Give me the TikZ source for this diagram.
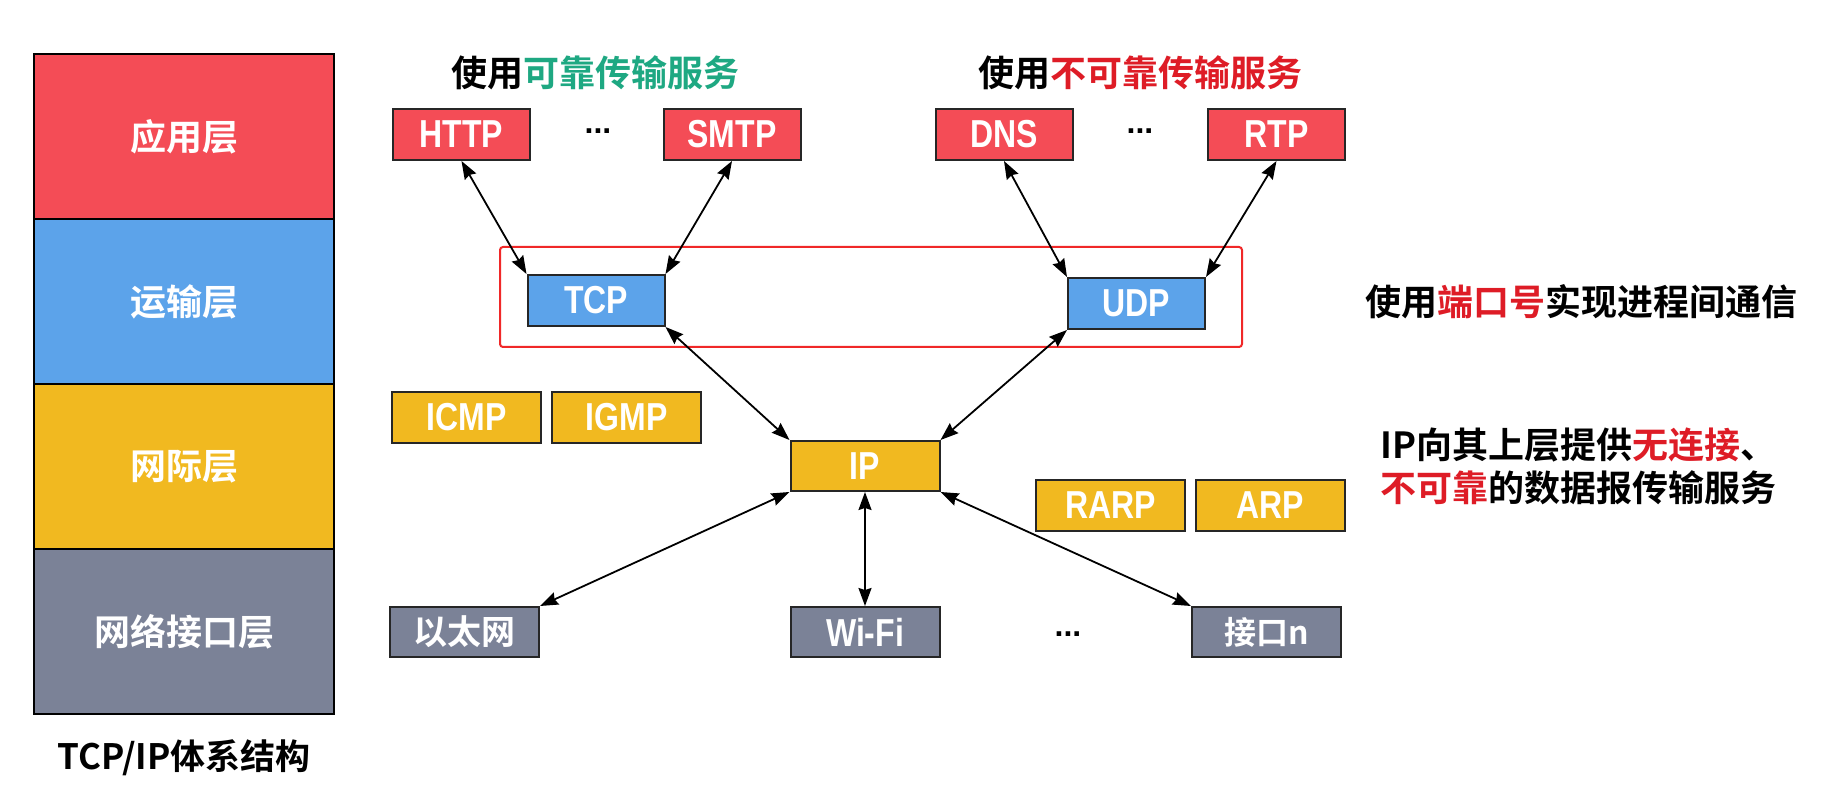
\documentclass[tikz,border=0pt]{standalone}
\usepackage{fontspec}
\setmainfont{Liberation Sans}
\newfontfamily\cjk{Noto Sans CJK SC}[BoldFont={Noto Sans CJK SC Bold}]
\newfontfamily\narrowfont{Liberation Sans}[FakeStretch=0.82]
\usetikzlibrary{arrows.meta}
\definecolor{appred}{RGB}{244,76,86}
\definecolor{tblue}{RGB}{92,163,234}
\definecolor{ipyel}{RGB}{241,185,32}
\definecolor{nigray}{RGB}{123,130,151}
\definecolor{tgreen}{RGB}{30,168,130}
\definecolor{tred}{RGB}{222,28,38}
\definecolor{rectred}{RGB}{240,40,40}
\begin{document}
\begin{tikzpicture}[x=0.5pt,y=-0.5pt,
  lay/.style={draw=black, line width=1.2pt, minimum width=150pt, minimum height=82.5pt, inner sep=0pt, text=white, font=\cjk\bfseries\fontsize{18}{20}\selectfont},
  box/.style={draw=black!85, line width=1pt, minimum height=25.5pt, minimum width=68.5pt, inner sep=0pt, text=white, font=\narrowfont\bfseries\fontsize{19.5}{20}\selectfont},
  wbox/.style={minimum width=74.5pt},
  cbox/.style={font=\cjk\bfseries\fontsize{17}{19}\selectfont},
  appbox/.style={box, fill=appred},
  tbox/.style={box, fill=tblue},
  ipbox/.style={box, wbox, fill=ipyel},
  nibox/.style={box, wbox, fill=nigray, minimum height=25pt},
  dots/.style={font=\bfseries\fontsize{16}{18}\selectfont},
  txt/.style={font=\cjk\bfseries\fontsize{18}{21.5}\selectfont, inner sep=0pt},
  conn/.style={<->, >={Stealth[length=9pt,width=6.5pt,inset=1pt]}, line width=0.9pt}
]
\useasboundingbox (0,0) rectangle (1833,786);
\fill[white] (0,0) rectangle (1833,786);

% left column
\node[lay, fill=appred] (lapp) at (184,136.5) {应用层};
\node[lay, fill=tblue] (ltrans) at (184,301.5) {运输层};
\node[lay, fill=ipyel] (lnet) at (184,466.5) {网际层};
\node[lay, fill=nigray] (lni) at (184,631.5) {网络接口层};
\node[txt, text=black, font=\cjk\bfseries\fontsize{17.5}{20}\selectfont] (cap) at (184,758) {TCP/IP体系结构};

% titles
\node[txt] (t1) at (595.5,73) {使用\textcolor{tgreen}{可靠传输服务}};
\node[txt] (t2) at (1140,73) {使用\textcolor{tred}{不可靠传输服务}};

% red rectangle
\draw[rectred, line width=1pt, rounded corners=1.5pt] (500,247) rectangle (1242,347);

% application boxes
\node[appbox] (http) at (461.5,134.5) {HTTP};
\node[dots] (d1) at (598,131) {...};
\node[appbox] (smtp) at (732,134.5) {SMTP};
\node[appbox] (dns) at (1004,134.5) {DNS};
\node[dots] (d2) at (1140,131) {...};
\node[appbox] (rtp) at (1276.5,134.5) {RTP};

% transport
\node[tbox] (tcp) at (596,300.5) {TCP};
\node[tbox] (udp) at (1136.5,303.5) {UDP};

% internet
\node[ipbox] (icmp) at (466.5,417.5) {ICMP};
\node[ipbox] (igmp) at (626.5,417.5) {IGMP};
\node[ipbox, minimum height=25pt] (ip) at (865,466) {IP};
\node[ipbox] (rarp) at (1110.5,505.5) {RARP};
\node[ipbox] (arp) at (1270.5,505.5) {ARP};

% network interface
\node[nibox, cbox] (eth) at (464.5,632) {以太网};
\node[nibox] (wifi) at (865,632) {Wi-Fi};
\node[dots] (d3) at (1068,634) {...};
\node[nibox, cbox, font=\cjk\bfseries\fontsize{16}{18}\selectfont] (ifn) at (1266.5,632) {接口n};

% connectors
\draw[conn] (http.south) -- (tcp.north west);
\draw[conn] (smtp.south) -- (tcp.north east);
\draw[conn] (dns.south) -- (udp.north west);
\draw[conn] (rtp.south) -- (udp.north east);
\draw[conn] (tcp.south east) -- (ip.north west);
\draw[conn] (udp.south west) -- (ip.north east);
\draw[conn] (ip.south west) -- (eth.north east);
\draw[conn] (ip.south) -- (wifi.north);
\draw[conn] (ip.south east) -- (ifn.north west);

% right texts
\node[txt, anchor=west] (r1) at (1365,302) {使用\textcolor{tred}{端口号}实现进程间通信};
\node[txt, anchor=west, align=left] (r2) at (1380,466) {IP向其上层提供\textcolor{tred}{无连接}、\\\textcolor{tred}{不可靠}的数据报传输服务};
\end{tikzpicture}
\end{document}
